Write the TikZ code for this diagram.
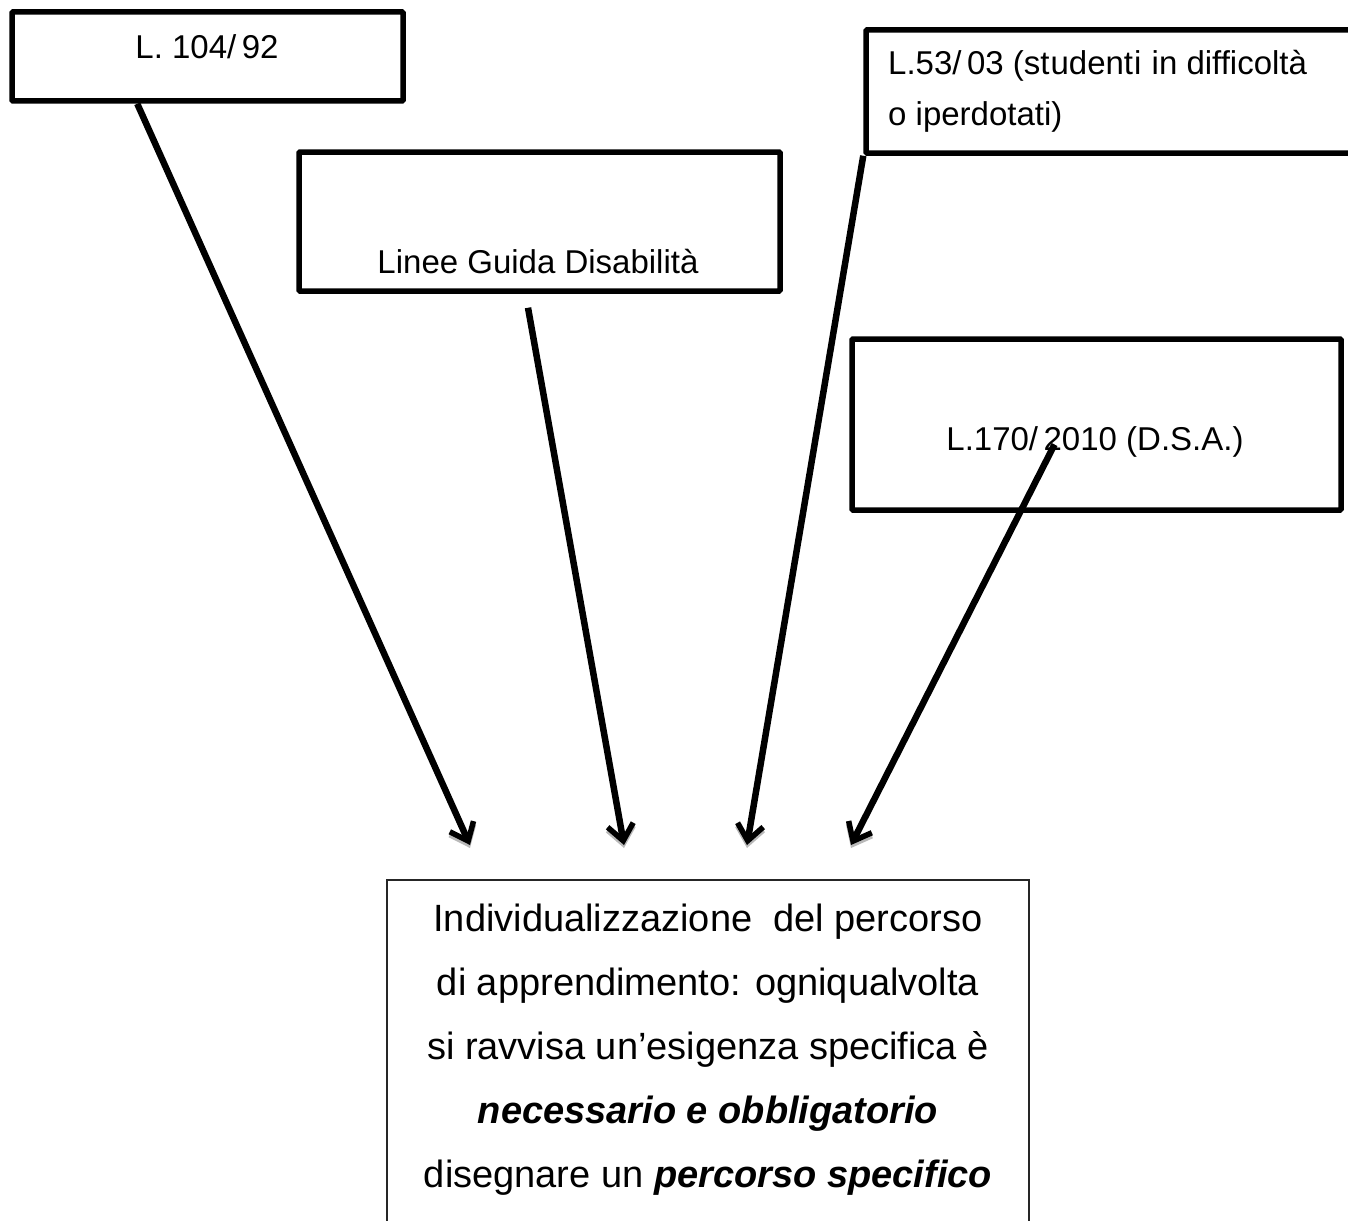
\documentclass[tikz,border=0pt]{standalone}
\usepackage{fontspec}
\setmainfont{Liberation Sans}
\usetikzlibrary{arrows.meta,positioning}
\tikzset{%
  lawbox/.style={draw, line width=5.5pt, rounded corners=1pt, inner sep=0pt},
  lawtext/.style={font=\fontsize{33}{51}\selectfont, inner sep=0pt},
  link/.style={%
    line width=6.5pt,
    -{Straight Barb[length=16pt,width=26pt,line width=5.5pt]},
    preaction={draw=gray!55, transform canvas={yshift=-3pt}}}
}

\begin{document}
\begin{tikzpicture}[x=1pt,y=-1pt]
    \useasboundingbox (0,0) rectangle (1348,1220);

    \node [lawbox, minimum width=391pt, minimum height=89pt]  (l104)  at (207.5,56.5)  {};
    \node [lawbox, minimum width=481pt, minimum height=139pt] (guida) at (539.5,221.5) {};
    \node [lawbox, minimum width=504pt, minimum height=123pt] (l53)   at (1118,91.5)   {};
    \node [lawbox, minimum width=489pt, minimum height=171pt] (l170)  at (1096.5,424.5) {};
    \node [draw=black!85, line width=1.8pt, minimum width=642pt, minimum height=380pt] (piano) at (708,1070) {};

    \node [lawtext] (t104)  at (207,47)  {L. 104/\,92};
    \node [lawtext] (tguida) at (538,262) {Linee Guida Disabilità};
    \node [lawtext, anchor=north west, align=left] (t53) at (888,50)
      {L.53/\,03 (st\kern1pt udent\kern1pt i\kern1pt\ in difficoltà\\o iperdotati)};
    \node [lawtext] (t170)  at (1095,442) {L.170/\,2010 (D.S.A.)};
    \node [font=\fontsize{38}{64}\selectfont, align=center, anchor=north, inner sep=0pt] (tpiano) at (708,904)
      {Individualizzazione\ \ del percorso\\
       di apprendimento: ogniqualvolta\\
       si ravvisa un’esigenza specifica è\\
       \textbf{\textit{necessario e obbligatorio}}\\
       disegnare un \textbf{\textit{percorso specifico}}};

    \coordinate (a104)  at (470,845);
    \coordinate (aguida) at (624,845);
    \coordinate (a53)   at (747,845);
    \coordinate (a170)  at (851,845);

    \draw [link] ([xshift=128pt]l104.south west) -- (a104);
    \draw [link] ([xshift=-11.5pt,yshift=-14pt]guida.south) -- (aguida);
    \draw [link] (l53.south west) -- (a53);
    \draw [link] ([shift={(-42,20)}]l170.center) -- (a170);
\end{tikzpicture}
\end{document}
